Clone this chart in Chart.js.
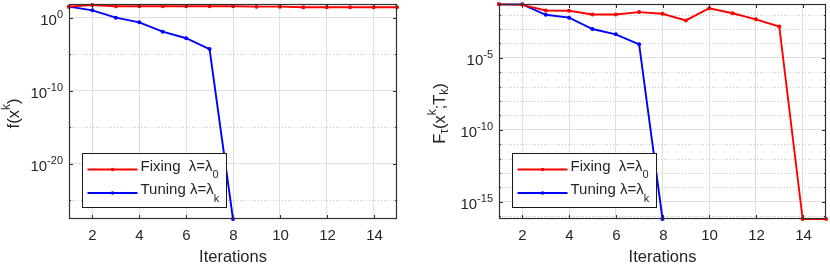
<!DOCTYPE html>
<html>
<head>
<meta charset="utf-8">
<script src="https://cdn.jsdelivr.net/npm/chart.js@4.4.1/dist/chart.umd.min.js"></script>
<style>
  html, body { margin: 0; padding: 0; background: #fff; }
  #wrap { position: relative; width: 830px; height: 265px; }
  .panel { position: absolute; top: 0; width: 415px; height: 265px; }
</style>
</head>
<body>
<div id="wrap">
  <div class="panel" style="left:0"><canvas id="leftChart"></canvas></div>
  <div class="panel" style="left:415px"><canvas id="rightChart"></canvas></div>
</div>
<script>
// Iteration numbers (x values)
const iterations = [1, 2, 3, 4, 5, 6, 7, 8, 9, 10, 11, 12, 13, 14, 15];
const xTickValues = [2, 4, 6, 8, 10, 12, 14];

// Left panel: f(x^k)
const leftFixing = [32, 54, 36, 36, 36, 36, 36, 36, 32, 32, 26, 26, 26, 26, 26];
const leftTuning = [32, 10, 1.0, 0.23, 0.012, 1.5e-3, 4.9e-5, 2.5e-28];
const leftYMin = 2.5e-28;
const leftYMax = 74;
const leftMajorExps = [0, -10, -20];
const leftMinorExps = [-5, -15, -25];

// Right panel: F_tau(x^k; T_k)
const rightFixing = [5.2e-2, 4.8e-2, 1.95e-2, 1.85e-2, 1.02e-2, 1.02e-2, 1.5e-2, 1.15e-2,
                     4.0e-3, 2.8e-2, 1.25e-2, 4.7e-3, 1.5e-3, 6.3e-17, 6.3e-17];
const rightTuning = [5.2e-2, 5.2e-2, 9.8e-3, 6.2e-3, 1.0e-3, 4.3e-4, 8.7e-5, 6.3e-17];
const rightYMin = 6.3e-17;
const rightYMax = 0.055;
const rightMajorExps = [-5, -10, -15];
const rightMinorExps = [-2, -3, -4, -6, -7, -8, -9, -11, -12, -13, -14, -16];

// Legend text
const legendNames = ['Fixing  ', 'Tuning '];
const legendSubs = ['0', 'k'];

const FONT = "'Liberation Sans', Arial, sans-serif";
const INK = '#262626';
const font = (size) => `${size}px ${FONT}`;

// draw a run of text pieces (for super/subscripts)
function drawRich(ctx, parts, x, y, align) {
    let w = 0;
    parts.forEach(p => { ctx.font = font(p.size); p.w = ctx.measureText(p.text).width; w += p.w; });
    let cx = align === 'right' ? x - w : align === 'center' ? x - w / 2 : x;
    ctx.textAlign = 'left';
    ctx.textBaseline = 'middle';
    parts.forEach(p => {
        ctx.font = font(p.size);
        ctx.fillText(p.text, cx, y + (p.dy || 0));
        cx += p.w;
    });
}

const matlabAxes = {
    id: 'matlabAxes',
    beforeDatasetsDraw(chart, args, opts) {
        const { ctx, chartArea: a, scales: { y } } = chart;
        ctx.save();
        ctx.strokeStyle = '#c6c6c6';
        ctx.lineWidth = 1;
        ctx.setLineDash([1, 2]);
        opts.minors.forEach(e => {
            const py = Math.round(y.getPixelForValue(10 ** e)) + 0.5;
            ctx.beginPath(); ctx.moveTo(a.left, py); ctx.lineTo(a.right, py); ctx.stroke();
        });
        ctx.restore();
    },
    beforeDatasetsDrawBox: null,
    afterDatasetsDraw(chart, args, opts) {
        const { ctx, chartArea: a, scales: { x, y } } = chart;
        ctx.save();
        ctx.fillStyle = INK;
        ctx.strokeStyle = '#303030';
        ctx.lineWidth = 1.2;

        // box
        ctx.strokeRect(a.left + 0.5, a.top + 0.5, a.right - a.left - 1, a.bottom - a.top - 1);
        ctx.lineWidth = 1;

        // x ticks (inside, top and bottom) + labels
        xTickValues.forEach(v => {
            const px = Math.round(x.getPixelForValue(v)) + 0.5;
            ctx.beginPath();
            ctx.moveTo(px, a.bottom); ctx.lineTo(px, a.bottom - 4);
            ctx.moveTo(px, a.top); ctx.lineTo(px, a.top + 4);
            ctx.stroke();
            ctx.font = font(15);
            ctx.textAlign = 'center';
            ctx.textBaseline = 'middle';
            ctx.fillText(String(v), px, a.bottom + 17);
        });

        // y ticks + labels
        opts.majors.forEach(e => {
            const py = Math.round(y.getPixelForValue(10 ** e)) + 0.5;
            ctx.beginPath();
            ctx.moveTo(a.left, py); ctx.lineTo(a.left + 4, py);
            ctx.moveTo(a.right, py); ctx.lineTo(a.right - 4, py);
            ctx.stroke();
            drawRich(ctx, [{ text: '10', size: 15, dy: 2 }, { text: String(e), size: 11, dy: -4 }],
                a.left - 6, py, 'right');
        });
        opts.minors.forEach(e => {
            const py = Math.round(y.getPixelForValue(10 ** e)) + 0.5;
            ctx.beginPath();
            ctx.moveTo(a.left, py); ctx.lineTo(a.left + 2, py);
            ctx.moveTo(a.right, py); ctx.lineTo(a.right - 2, py);
            ctx.stroke();
        });

        // axis titles
        ctx.font = font(16.5);
        ctx.textAlign = 'center';
        ctx.textBaseline = 'middle';
        ctx.fillText('Iterations', (a.left + a.right) / 2, a.bottom + 38);
        ctx.save();
        ctx.translate(opts.titleX, (a.top + a.bottom) / 2 + 2);
        ctx.rotate(-Math.PI / 2);
        drawRich(ctx, opts.yTitle, 0, 0, 'center');
        ctx.restore();

        // legend
        const lx = a.left + 13.5, ly = a.bottom - 65.5;
        ctx.fillStyle = '#fff';
        ctx.fillRect(lx, ly, 144, 54);
        ctx.strokeStyle = '#1a1a1a';
        ctx.strokeRect(lx, ly, 144, 54);
        chart.data.datasets.forEach((ds, i) => {
            const ry = ly + 16 + i * 23.5;
            ctx.strokeStyle = ds.borderColor;
            ctx.lineWidth = 1.8;
            ctx.beginPath(); ctx.moveTo(lx + 5, ry); ctx.lineTo(lx + 55, ry); ctx.stroke();
            ctx.fillStyle = ds.borderColor;
            ctx.beginPath(); ctx.arc(lx + 30, ry, 1.8, 0, Math.PI * 2); ctx.fill();
            ctx.fillStyle = INK;
            drawRich(ctx, [{ text: legendNames[i] + 'λ=λ', size: 15, dy: -3 },
                           { text: legendSubs[i], size: 11, dy: 5.5 }], lx + 58, ry, 'left');
        });
        ctx.restore();
    }
};

function toPoints(values) {
    return values.map((v, i) => ({ x: iterations[i], y: v }));
}

function makeChart(id, fixing, tuning, yMin, yMax, majors, minors, yAxisWidth, padRight, yTitle, titleX) {
    const series = (data, color) => ({
        data: toPoints(data),
        borderColor: color,
        backgroundColor: color,
        borderWidth: 1.9,
        pointRadius: 2,
        pointBorderWidth: 0,
        tension: 0,
        clip: 4
    });
    return new Chart(document.getElementById(id), {
        type: 'line',
        data: { datasets: [series(fixing, '#ff0000'), series(tuning, '#0000ff')] },
        plugins: [matlabAxes],
        options: {
            responsive: true,
            maintainAspectRatio: false,
            animation: false,
            layout: { padding: { top: 3, right: padRight, left: 0, bottom: 0 } },
            plugins: {
                legend: { display: false },
                tooltip: { enabled: false },
                matlabAxes: { majors, minors, yTitle, titleX }
            },
            scales: {
                x: {
                    type: 'linear',
                    min: 1,
                    max: 15,
                    afterBuildTicks: (axis) => { axis.ticks = xTickValues.map(v => ({ value: v })); },
                    afterFit: (axis) => { axis.height = 46; },
                    ticks: { display: false },
                    grid: { color: '#dfdfdf', drawTicks: false },
                    border: { display: false }
                },
                y: {
                    type: 'logarithmic',
                    min: yMin,
                    max: yMax,
                    bounds: 'data',
                    afterBuildTicks: (axis) => { axis.ticks = majors.map(e => ({ value: 10 ** e, major: true })); },
                    afterFit: (axis) => { axis.width = yAxisWidth; },
                    ticks: { display: false },
                    grid: { color: '#dfdfdf', drawTicks: false },
                    border: { display: false }
                }
            }
        }
    });
}

makeChart('leftChart', leftFixing, leftTuning, leftYMin, leftYMax, leftMajorExps, leftMinorExps, 69, 18,
    [{ text: 'f(x', size: 16.5 }, { text: 'k', size: 12, dy: -7 }, { text: ')', size: 16.5 }], 14);

makeChart('rightChart', rightFixing, rightTuning, rightYMin, rightYMax, rightMajorExps, rightMinorExps, 84, 2,
    [{ text: 'F', size: 16.5 }, { text: 'τ', size: 12, dy: 5 }, { text: '(x', size: 16.5 },
     { text: 'k', size: 12, dy: -7 }, { text: ';T', size: 16.5 }, { text: 'k', size: 12, dy: 5 },
     { text: ')', size: 16.5 }], 25);
</script>
</body>
</html>
